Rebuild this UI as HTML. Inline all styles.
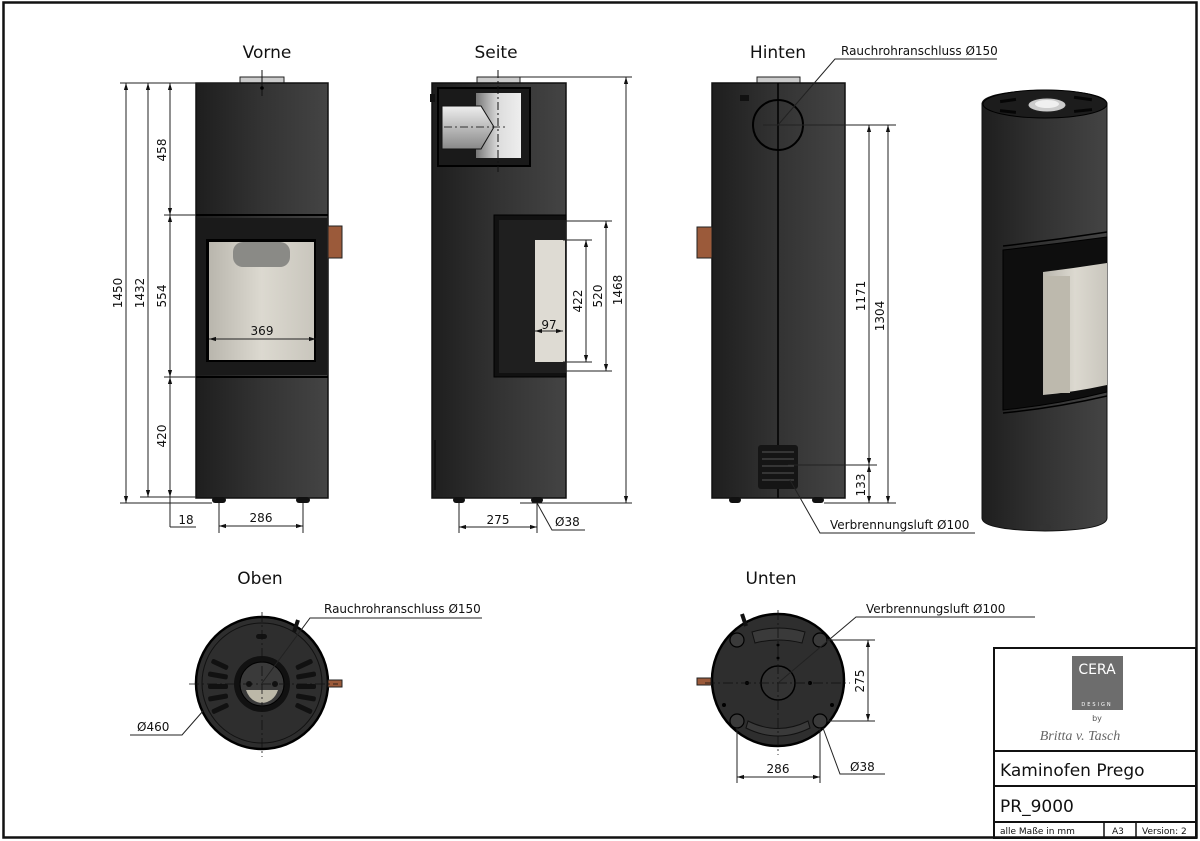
<!DOCTYPE html>
<html><head><meta charset="utf-8"><style>
html,body{margin:0;padding:0;background:#fff;width:1200px;height:841px;overflow:hidden}
svg{display:block}
text{font-family:"DejaVu Sans","Liberation Sans",sans-serif;fill:#111}
.t{font-size:17px}
.d{font-size:12px}
.dl{stroke:#222;stroke-width:1;fill:none}
</style></head><body>
<svg width="1200" height="841" viewBox="0 0 1200 841" xmlns="http://www.w3.org/2000/svg">
<defs>
<linearGradient id="body" x1="0" x2="1" y1="0" y2="0">
<stop offset="0" stop-color="#1e1e1e"/><stop offset="0.5" stop-color="#333"/><stop offset="1" stop-color="#444"/>
</linearGradient>
<linearGradient id="glass" x1="0" x2="1">
<stop offset="0" stop-color="#b9b6ad"/><stop offset="0.5" stop-color="#dcd9d0"/><stop offset="1" stop-color="#c9c6bd"/>
</linearGradient>
<linearGradient id="pipe" x1="0" x2="0" y1="0" y2="1">
<stop offset="0" stop-color="#eee"/><stop offset="1" stop-color="#888"/>
</linearGradient>
<linearGradient id="pipe2" x1="0" x2="1">
<stop offset="0" stop-color="#777"/><stop offset="0.5" stop-color="#ddd"/><stop offset="1" stop-color="#eee"/>
</linearGradient>
<marker id="a" viewBox="0 0 10 10" refX="10" refY="5" markerWidth="7" markerHeight="7" orient="auto-start-reverse"><path d="M0,2 L10,5 L0,8 z" fill="#111"/></marker>
</defs>
<rect x="3.5" y="2.5" width="1193" height="835" fill="none" stroke="#111" stroke-width="2.5"/>

<text class="t" x="267" y="58" text-anchor="middle">Vorne</text>
<text class="t" x="496" y="58" text-anchor="middle">Seite</text>
<text class="t" x="778" y="58" text-anchor="middle">Hinten</text>
<text class="t" x="260" y="584" text-anchor="middle">Oben</text>
<text class="t" x="771" y="584" text-anchor="middle">Unten</text>

<!-- FRONT -->
<rect x="240" y="77" width="44" height="7" fill="#ccc" stroke="#222"/>
<rect x="196" y="83" width="132" height="415" fill="url(#body)" stroke="#111" stroke-width="1.5"/>
<line x1="196" y1="215" x2="328" y2="215" stroke="#000" stroke-width="2"/>
<line x1="196" y1="377" x2="328" y2="377" stroke="#000" stroke-width="2"/>
<rect x="197" y="218" width="130" height="157" fill="#1a1a1a"/>
<rect x="206" y="239" width="110" height="123" fill="#000"/>
<rect x="209" y="242" width="105" height="118" fill="url(#glass)"/>
<rect x="233" y="242" width="57" height="25" rx="10" fill="#8a8a86"/>
<rect x="328" y="226" width="14" height="32" fill="#9b5a3a" stroke="#222"/>
<rect x="212" y="497" width="14" height="6" rx="3" fill="#111"/>
<rect x="296" y="497" width="14" height="6" rx="3" fill="#111"/>
<line x1="262" y1="70" x2="262" y2="96" stroke="#111"/><circle cx="262" cy="88" r="1.8" fill="#000"/>
<line x1="209" y1="339" x2="316" y2="339" class="dl" marker-start="url(#a)" marker-end="url(#a)"/>
<text class="d" x="262" y="335" text-anchor="middle">369</text>
<g class="dl">
<line x1="120" y1="83" x2="240" y2="83"/><line x1="120" y1="503" x2="212" y2="503"/>
<line x1="140" y1="497" x2="196" y2="497"/><line x1="164" y1="215" x2="196" y2="215"/><line x1="164" y1="377" x2="196" y2="377"/>
<line x1="126" y1="83" x2="126" y2="503" marker-start="url(#a)" marker-end="url(#a)"/>
<line x1="148" y1="83" x2="148" y2="497" marker-start="url(#a)" marker-end="url(#a)"/>
<line x1="170" y1="83" x2="170" y2="215" marker-start="url(#a)" marker-end="url(#a)"/>
<line x1="170" y1="215" x2="170" y2="377" marker-start="url(#a)" marker-end="url(#a)"/>
<line x1="170" y1="377" x2="170" y2="497" marker-start="url(#a)" marker-end="url(#a)"/>
<line x1="170" y1="497" x2="170" y2="527"/><line x1="170" y1="527" x2="196" y2="527"/>
<line x1="219" y1="503" x2="219" y2="533"/><line x1="303" y1="503" x2="303" y2="533"/>
<line x1="219" y1="526" x2="303" y2="526" marker-start="url(#a)" marker-end="url(#a)"/>
</g>
<text class="d" transform="translate(122,293) rotate(-90)" text-anchor="middle">1450</text>
<text class="d" transform="translate(144,293) rotate(-90)" text-anchor="middle">1432</text>
<text class="d" transform="translate(166,150) rotate(-90)" text-anchor="middle">458</text>
<text class="d" transform="translate(166,296) rotate(-90)" text-anchor="middle">554</text>
<text class="d" transform="translate(166,436) rotate(-90)" text-anchor="middle">420</text>
<text class="d" x="186" y="524" text-anchor="middle">18</text>
<text class="d" x="261" y="522" text-anchor="middle">286</text>

<!-- SIDE -->
<rect x="477" y="77" width="43" height="7" fill="#ccc" stroke="#222"/>
<rect x="432" y="83" width="134" height="415" fill="url(#body)" stroke="#111" stroke-width="1.5"/>
<rect x="430" y="94" width="5" height="8" fill="#111"/>
<rect x="438" y="88" width="92" height="78" fill="#1a1a1a" stroke="#000" stroke-width="2"/>
<rect x="476" y="93" width="45" height="65" fill="url(#pipe2)"/>
<path d="M442,106 L481,106 L494,127 L481,149 L442,149 Z" fill="url(#pipe)" stroke="#111"/>
<line x1="498" y1="70" x2="498" y2="172" stroke="#111" stroke-dasharray="8,3,2,3"/>
<line x1="444" y1="127" x2="505" y2="127" stroke="#333" stroke-dasharray="8,3,2,3"/>
<rect x="494" y="215" width="72" height="162" fill="#111" stroke="#000"/>
<rect x="499" y="220" width="67" height="153" fill="#1f1f1f"/>
<rect x="535" y="240" width="30" height="122" fill="#dedbd3"/>
<rect x="434" y="440" width="2" height="50" fill="#111"/>
<rect x="453" y="497" width="12" height="6" rx="3" fill="#111"/>
<rect x="531" y="497" width="12" height="6" rx="3" fill="#111"/>
<line x1="535" y1="331" x2="563" y2="331" class="dl" marker-start="url(#a)" marker-end="url(#a)"/>
<text class="d" x="549" y="329" text-anchor="middle">97</text>
<g class="dl">
<line x1="520" y1="77" x2="632" y2="77"/><line x1="520" y1="503" x2="632" y2="503"/>
<line x1="566" y1="221" x2="612" y2="221"/><line x1="566" y1="371" x2="612" y2="371"/>
<line x1="563" y1="240" x2="592" y2="240"/><line x1="563" y1="362" x2="592" y2="362"/>
<line x1="586" y1="240" x2="586" y2="362" marker-start="url(#a)" marker-end="url(#a)"/>
<line x1="606" y1="221" x2="606" y2="371" marker-start="url(#a)" marker-end="url(#a)"/>
<line x1="626" y1="77" x2="626" y2="503" marker-start="url(#a)" marker-end="url(#a)"/>
<line x1="459" y1="503" x2="459" y2="533"/><line x1="537" y1="503" x2="537" y2="533"/>
<line x1="459" y1="527" x2="537" y2="527" marker-start="url(#a)" marker-end="url(#a)"/>
<polyline points="537,503 552,530 585,530"/>
</g>
<text class="d" transform="translate(582,301) rotate(-90)" text-anchor="middle">422</text>
<text class="d" transform="translate(602,296) rotate(-90)" text-anchor="middle">520</text>
<text class="d" transform="translate(622,290) rotate(-90)" text-anchor="middle">1468</text>
<text class="d" x="498" y="524" text-anchor="middle">275</text>
<text class="d" x="555" y="526">Ø38</text>

<!-- BACK -->
<rect x="757" y="77" width="43" height="7" fill="#ccc" stroke="#222"/>
<rect x="712" y="83" width="133" height="415" fill="url(#body)" stroke="#111" stroke-width="1.5"/>
<line x1="778" y1="83" x2="778" y2="498" stroke="#000" stroke-width="1.5"/>
<circle cx="778" cy="125" r="25" fill="none" stroke="#000" stroke-width="2"/>
<rect x="740" y="95" width="9" height="6" fill="#111"/>
<rect x="697" y="227" width="15" height="31" fill="#9b5a3a" stroke="#222"/>
<rect x="758" y="445" width="40" height="44" rx="3" fill="#151515"/>
<g stroke="#555" stroke-width="1"><line x1="762" y1="452" x2="794" y2="452"/><line x1="762" y1="459" x2="794" y2="459"/><line x1="762" y1="466" x2="794" y2="466"/><line x1="762" y1="473" x2="794" y2="473"/><line x1="762" y1="480" x2="794" y2="480"/></g>
<rect x="729" y="497" width="12" height="6" rx="3" fill="#111"/>
<rect x="812" y="497" width="12" height="6" rx="3" fill="#111"/>
<g class="dl">
<line x1="763" y1="125" x2="896" y2="125"/><line x1="788" y1="465" x2="877" y2="465"/><line x1="824" y1="503" x2="896" y2="503"/>
<line x1="869" y1="125" x2="869" y2="465" marker-start="url(#a)" marker-end="url(#a)"/>
<line x1="888" y1="125" x2="888" y2="503" marker-start="url(#a)" marker-end="url(#a)"/>
<line x1="869" y1="465" x2="869" y2="503" marker-start="url(#a)" marker-end="url(#a)"/>
<polyline points="778,125 835,59 997,59"/>
<polyline points="790,480 820,533 975,533"/>
</g>
<text class="d" transform="translate(865,296) rotate(-90)" text-anchor="middle">1171</text>
<text class="d" transform="translate(884,316) rotate(-90)" text-anchor="middle">1304</text>
<text class="d" transform="translate(865,485) rotate(-90)" text-anchor="middle">133</text>
<text class="d" x="841" y="55">Rauchrohranschluss Ø150</text>
<text class="d" x="830" y="529">Verbrennungsluft Ø100</text>

<!-- 3D -->
<path d="M982,104 Q982,92 1045,90 Q1107,92 1107,104 L1107,518 Q1107,530 1045,531 Q982,530 982,518 Z" fill="url(#body)" stroke="#111"/>
<ellipse cx="1045" cy="104" rx="62" ry="14" fill="#1c1c1c" stroke="#000"/>
<g fill="#050505">
<rect x="1000" y="99" width="16" height="3" transform="rotate(-8 1008 100)"/>
<rect x="1074" y="97" width="18" height="3" transform="rotate(8 1083 98)"/>
<rect x="1000" y="110" width="16" height="3" transform="rotate(6 1008 111)"/>
<rect x="1074" y="109" width="18" height="3" transform="rotate(-6 1083 110)"/>
</g>
<ellipse cx="1047" cy="105" rx="19" ry="7" fill="#ccc" stroke="#222"/>
<ellipse cx="1047" cy="104" rx="12" ry="4" fill="#f0f0f0"/>
<path d="M1003,250 Q1055,244 1107,237 L1107,392 Q1055,405 1003,410 Z" fill="#0e0e0e" stroke="#000"/>
<path d="M1003,246 Q1055,240 1107,232" fill="none" stroke="#000" stroke-width="1.5"/>
<path d="M1003,413 Q1055,408 1107,396" fill="none" stroke="#000" stroke-width="1.5"/>
<path d="M1043,272 Q1075,268 1107,263 L1107,385 Q1075,392 1043,395 Z" fill="url(#glass)"/>
<rect x="1044" y="276" width="26" height="117" fill="#bdb9ad"/>
<ellipse cx="1045" cy="527" rx="6" ry="3" fill="#333"/>

<!-- TOP VIEW -->
<circle cx="262" cy="683" r="66" fill="#2e2e2e" stroke="#000" stroke-width="2.5"/>
<circle cx="262" cy="683" r="60" fill="none" stroke="#111" stroke-width="1"/>
<line x1="298" y1="620" x2="294" y2="632" stroke="#111" stroke-width="4"/>
<rect x="328" y="680" width="14" height="7" fill="#9b5a3a" stroke="#222"/>
<circle cx="262" cy="684" r="28" fill="#111"/>
<circle cx="262" cy="684" r="22" fill="#3a3a3a" stroke="#000"/>
<path d="M246,690 L278,690 Q274,702 262,703 Q250,702 246,690 Z" fill="#bcb8a8"/>
<circle cx="249" cy="684" r="3" fill="#111"/><circle cx="275" cy="684" r="3" fill="#111"/>
<rect x="256" y="634" width="11" height="5" rx="2.5" fill="#111"/>
<g fill="#111">
<rect x="211" y="662" width="18" height="5" rx="2" transform="rotate(25 220 664)"/>
<rect x="208" y="673" width="20" height="5" rx="2" transform="rotate(10 218 675)"/>
<rect x="208" y="684" width="20" height="5" rx="2"/>
<rect x="208" y="695" width="20" height="5" rx="2" transform="rotate(-10 218 697)"/>
<rect x="211" y="706" width="18" height="5" rx="2" transform="rotate(-25 220 708)"/>
<rect x="295" y="662" width="18" height="5" rx="2" transform="rotate(-25 304 664)"/>
<rect x="296" y="673" width="20" height="5" rx="2" transform="rotate(-10 306 675)"/>
<rect x="296" y="684" width="20" height="5" rx="2"/>
<rect x="296" y="695" width="20" height="5" rx="2" transform="rotate(10 306 697)"/>
<rect x="295" y="706" width="18" height="5" rx="2" transform="rotate(25 304 708)"/>
</g>
<g stroke="#111" stroke-width="0.8" stroke-dasharray="10,3,2,3"><line x1="262" y1="612" x2="262" y2="757"/><line x1="189" y1="684" x2="338" y2="684"/></g>
<g class="dl"><polyline points="262,683 310,618 482,618"/><polyline points="203,711 182,735 130,735"/></g>
<text class="d" x="324" y="613">Rauchrohranschluss Ø150</text>
<text class="d" x="137" y="731">Ø460</text>

<!-- BOTTOM VIEW -->
<circle cx="778" cy="680" r="66" fill="#2e2e2e" stroke="#000" stroke-width="2.5"/>
<line x1="742" y1="614" x2="746" y2="626" stroke="#111" stroke-width="4"/>
<rect x="697" y="678" width="14" height="7" fill="#9b5a3a" stroke="#222"/>
<path d="M752,632 Q778,624 805,632 L802,643 Q778,637 755,643 Z" fill="#3a3a3a" stroke="#111"/>
<path d="M748,721 Q778,736 808,721 L810,728 Q778,744 746,728 Z" fill="#3a3a3a" stroke="#111"/>
<circle cx="778" cy="683" r="17" fill="#333" stroke="#000" stroke-width="1.5"/>
<g fill="#3a3a3a" stroke="#000" stroke-width="1.2">
<circle cx="737" cy="640" r="7"/><circle cx="820" cy="640" r="7"/><circle cx="737" cy="721" r="7"/><circle cx="820" cy="721" r="7"/></g>
<g fill="#000"><circle cx="747" cy="683" r="2"/><circle cx="810" cy="683" r="2"/><circle cx="778" cy="658" r="1.5"/><circle cx="778" cy="645" r="1.5"/><circle cx="724" cy="705" r="2"/><circle cx="832" cy="705" r="2"/></g>
<g stroke="#111" stroke-width="0.8" stroke-dasharray="10,3,2,3"><line x1="778" y1="610" x2="778" y2="755"/><line x1="705" y1="683" x2="850" y2="683"/></g>
<g class="dl">
<line x1="827" y1="640" x2="875" y2="640"/><line x1="827" y1="721" x2="875" y2="721"/>
<line x1="868" y1="640" x2="868" y2="721" marker-start="url(#a)" marker-end="url(#a)"/>
<line x1="737" y1="728" x2="737" y2="783"/><line x1="820" y1="728" x2="820" y2="783"/>
<line x1="737" y1="777" x2="820" y2="777" marker-start="url(#a)" marker-end="url(#a)"/>
<polyline points="778,683 856,617 1035,617"/>
<polyline points="823,728 840,774 885,774"/>
</g>
<text class="d" transform="translate(864,681) rotate(-90)" text-anchor="middle">275</text>
<text class="d" x="778" y="773" text-anchor="middle">286</text>
<text class="d" x="850" y="771">Ø38</text>
<text class="d" x="866" y="613">Verbrennungsluft Ø100</text>

<!-- TITLE BLOCK -->
<g fill="none" stroke="#111" stroke-width="2">
<rect x="994" y="648" width="202" height="190"/>
<line x1="994" y1="751" x2="1196" y2="751"/><line x1="994" y1="786" x2="1196" y2="786"/><line x1="994" y1="822" x2="1196" y2="822"/>
</g>
<line x1="1104" y1="822" x2="1104" y2="838" stroke="#111" stroke-width="1.5"/>
<line x1="1136" y1="822" x2="1136" y2="838" stroke="#111" stroke-width="1.5"/>
<rect x="1072" y="656" width="51" height="54" fill="#6d6d6d"/>
<text x="1097" y="674" text-anchor="middle" style="font-size:14px;fill:#fff">CERA</text>
<text x="1097" y="706" text-anchor="middle" style="font-size:5px;fill:#fff;letter-spacing:2px">DESIGN</text>
<text x="1097" y="721" text-anchor="middle" style="font-size:8px;fill:#555">by</text>
<text x="1080" y="740" text-anchor="middle" style="font-size:14px;fill:#666;font-family:'Liberation Serif',serif;font-style:italic">Britta v. Tasch</text>
<text x="1000" y="776" style="font-size:17px">Kaminofen Prego</text>
<text x="1000" y="812" style="font-size:17px">PR_9000</text>
<text x="1000" y="834" style="font-size:9px">alle Maße in mm</text>
<text x="1112" y="834" style="font-size:9px">A3</text>
<text x="1142" y="834" style="font-size:9px">Version:  2</text>
</svg>
</body></html>
